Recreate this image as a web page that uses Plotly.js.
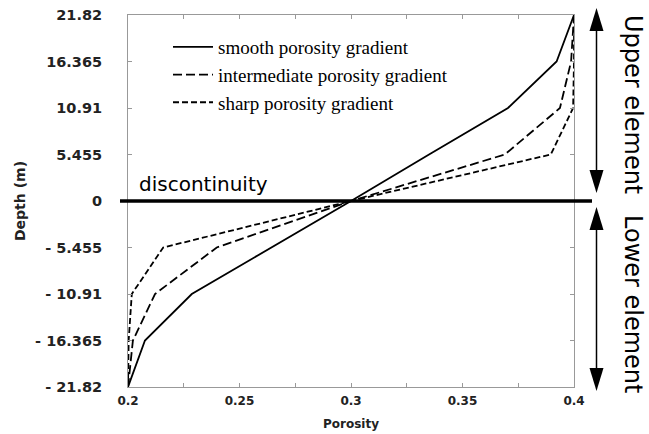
<!DOCTYPE html>
<html>
<head>
<meta charset="utf-8">
<script src="https://cdn.plot.ly/plotly-3.0.1.min.js"></script>
<style>
  html, body { margin: 0; padding: 0; background: #fff; }
  #chart { width: 649px; height: 434px; }
</style>
</head>
<body>
<div id="chart"></div>
<script>
// ---- data ----
var depth = [-21.82, -16.365, -10.91, -5.455, 0, 5.455, 10.91, 16.365, 21.82];
var smoothPorosity = [0.2, 0.2076, 0.2286, 0.2643, 0.3, 0.335, 0.3704, 0.3922, 0.4];
var intermediatePorosity = [0.2, 0.2022, 0.2121, 0.2398, 0.3, 0.369, 0.3937, 0.3987, 0.4];
var sharpPorosity = [0.2, 0.2003, 0.2017, 0.2158, 0.3, 0.3896, 0.3996, 0.4, 0.4];

var seriesNames = ['smooth porosity gradient', 'intermediate porosity gradient', 'sharp porosity gradient'];

var xTickVals = [0.2, 0.25, 0.3, 0.35, 0.4];
var xTickText = ['0.2', '0.25', '0.3', '0.35', '0.4'];
var xMinorVals = [0.225, 0.275, 0.325, 0.375];
var yTickVals = [-21.82, -16.365, -10.91, -5.455, 0, 5.455, 10.91, 16.365, 21.82];
var yTickText = ['- 21.82', '- 16.365', '- 10.91', '- 5.455', '0', '5.455', '10.91', '16.365', '21.82'];

var discontinuityDepth = 0;

// ---- layout geometry (pixels) ----
var W = 649, H = 434;
var M = {l: 128, r: 75, t: 15, b: 47};
var plotW = W - M.l - M.r, plotH = H - M.t - M.b;
function px(x) { return (x - M.l) / plotW; }       // pixel x -> paper x
function py(y) { return (H - M.b - y) / plotH; }   // pixel y -> paper y

var traces = [
  {x: smoothPorosity, y: depth, name: seriesNames[0], mode: 'lines',
   line: {color: '#000', width: 1.8, dash: 'solid'}},
  {x: intermediatePorosity, y: depth, name: seriesNames[1], mode: 'lines',
   line: {color: '#000', width: 1.8, dash: '9px,4px'}},
  {x: sharpPorosity, y: depth, name: seriesNames[2], mode: 'lines',
   line: {color: '#000', width: 1.8, dash: '6px,3px'}}
];

// arrows (double headed) on the right
var ax = px(596.5);
function arrowHead(xc, yTip, dir) { // dir = +1 points up, -1 points down (pixel coords)
  var hw = 7, hl = 23;
  var yBase = yTip + dir * hl;
  return 'M' + px(xc) + ',' + py(yTip) + ' L' + px(xc - hw) + ',' + py(yBase) +
         ' L' + px(xc + hw) + ',' + py(yBase) + ' Z';
}
var shapes = [
  {type: 'line', xref: 'paper', yref: 'y', x0: px(120), x1: px(592), y0: discontinuityDepth, y1: discontinuityDepth,
   line: {color: '#000', width: 3.5}},
  {type: 'line', xref: 'paper', yref: 'paper', x0: ax, x1: ax, y0: py(20), y1: py(180), line: {color: '#000', width: 1.5}},
  {type: 'path', xref: 'paper', yref: 'paper', path: arrowHead(596.5, 8, 1), fillcolor: '#000', line: {width: 0}},
  {type: 'path', xref: 'paper', yref: 'paper', path: arrowHead(596.5, 193, -1), fillcolor: '#000', line: {width: 0}},
  {type: 'line', xref: 'paper', yref: 'paper', x0: ax, x1: ax, y0: py(220), y1: py(378), line: {color: '#000', width: 1.5}},
  {type: 'path', xref: 'paper', yref: 'paper', path: arrowHead(596.5, 207, 1), fillcolor: '#000', line: {width: 0}},
  {type: 'path', xref: 'paper', yref: 'paper', path: arrowHead(596.5, 391, -1), fillcolor: '#000', line: {width: 0}}
];

var annotations = [
  {text: 'discontinuity', xref: 'paper', yref: 'paper', x: px(137), y: py(198), xanchor: 'left', yanchor: 'bottom',
   showarrow: false, font: {family: 'DejaVu Sans', size: 20, color: '#000'}},
  {text: 'Upper element', xref: 'paper', yref: 'paper', x: px(633), y: py(104), xanchor: 'center', yanchor: 'middle',
   textangle: 90, showarrow: false, font: {family: 'DejaVu Sans', size: 24, color: '#000'}},
  {text: 'Lower element', xref: 'paper', yref: 'paper', x: px(633), y: py(304), xanchor: 'center', yanchor: 'middle',
   textangle: 90, showarrow: false, font: {family: 'DejaVu Sans', size: 24, color: '#000'}}
];

var layout = {
  width: W, height: H,
  margin: M,
  paper_bgcolor: '#fff', plot_bgcolor: '#fff',
  showlegend: true,
  legend: {x: px(168), y: py(28), xanchor: 'left', yanchor: 'top', bgcolor: 'rgba(0,0,0,0)',
           font: {family: 'Liberation Serif', size: 19, color: '#000'}, itemwidth: 40, tracegroupgap: 0},
  xaxis: {
    range: [0.2, 0.4], tickmode: 'array', tickvals: xTickVals, ticktext: xTickText,
    ticks: 'inside', ticklen: 4, tickcolor: '#999', showline: true, linecolor: '#999', linewidth: 1,
    mirror: 'ticks', showgrid: false, zeroline: false, ticklabelstandoff: 3,
    minor: {tickmode: 'array', tickvals: xMinorVals, ticks: 'inside', ticklen: 4, tickcolor: '#999', showgrid: false},
    tickfont: {family: 'DejaVu Sans', size: 12, weight: 'bold', color: '#222'},
    title: {text: 'Porosity', font: {family: 'DejaVu Sans', size: 12, weight: 'bold', color: '#222'}, standoff: 12}
  },
  yaxis: {
    range: [-21.82, 21.82], tickmode: 'array', tickvals: yTickVals, ticktext: yTickText,
    ticks: 'inside', ticklen: 4, tickcolor: '#999', showline: true, linecolor: '#999', linewidth: 1,
    mirror: 'ticks', showgrid: false, zeroline: false, ticklabelstandoff: 22,
    tickfont: {family: 'DejaVu Sans', size: 14.5, weight: 'bold', color: '#222'},
    title: {text: 'Depth (m)', font: {family: 'DejaVu Sans', size: 14, weight: 'bold', color: '#222'}, standoff: 6}
  },
  shapes: shapes,
  annotations: annotations
};

Plotly.newPlot('chart', traces, layout, {displayModeBar: false, staticPlot: true});
</script>
</body>
</html>
